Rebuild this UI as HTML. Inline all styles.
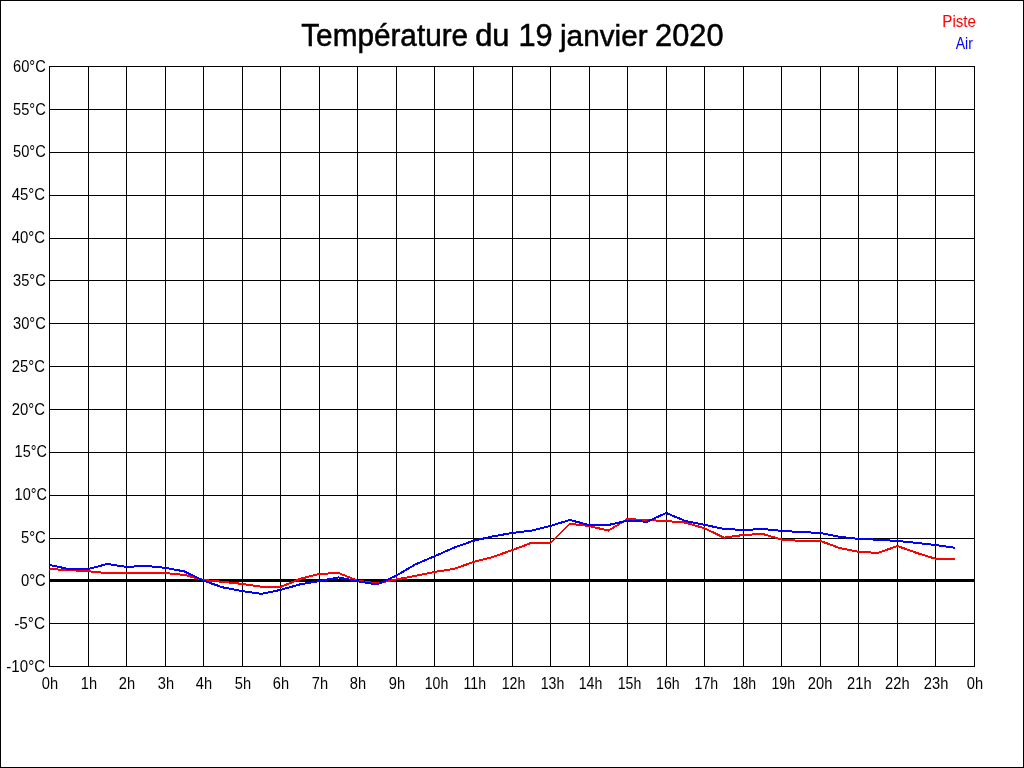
<!DOCTYPE html>
<html lang="fr">
<head>
<meta charset="utf-8">
<title>Température du 19 janvier 2020</title>
<style>
html,body{margin:0;padding:0;background:#fff;}
body{width:1024px;height:768px;overflow:hidden;}
svg{display:block;}
text{font-family:"Liberation Sans",Arial,sans-serif;}
.g{shape-rendering:crispEdges;}
.lbl{font-size:14.67px;fill:#000;}
.ttl{font-size:29.33px;fill:#000;stroke:#000;stroke-width:0.5px;}
</style>
</head>
<body>
<svg width="1024" height="768" viewBox="0 0 1024 768">
<rect x="0" y="0" width="1024" height="768" fill="#fff"/>
<rect class="g" x="0.5" y="0.5" width="1023" height="767" fill="none" stroke="#000" stroke-width="1"/>
<path class="g" d="M49.5 66V667M88.5 66V667M126.5 66V667M165.5 66V667M203.5 66V667M242.5 66V667M280.5 66V667M319.5 66V667M357.5 66V667M396.5 66V667M434.5 66V667M473.5 66V667M512.5 66V667M550.5 66V667M589.5 66V667M627.5 66V667M666.5 66V667M704.5 66V667M743.5 66V667M781.5 66V667M820.5 66V667M858.5 66V667M897.5 66V667M935.5 66V667M974.5 66V667M49 66.5H975M49 109.5H975M49 152.5H975M49 195.5H975M49 238.5H975M49 280.5H975M49 323.5H975M49 366.5H975M49 409.5H975M49 452.5H975M49 495.5H975M49 538.5H975M49 580.5H975M49 623.5H975M49 666.5H975" fill="none" stroke="#000" stroke-width="1"/>
<rect class="g" x="49" y="579" width="926" height="3" fill="#000"/>
<polyline class="g" points="49.50,569.00 68.77,570.10 88.04,571.20 107.31,573.10 126.58,573.10 145.85,573.10 165.12,573.00 184.40,574.90 203.67,580.00 222.94,581.90 242.21,583.90 261.48,586.75 280.75,586.90 300.02,578.90 319.29,573.90 338.56,573.00 357.83,580.75 377.10,583.25 396.38,579.50 415.65,575.75 434.92,571.90 454.19,568.90 473.46,562.00 492.73,557.00 512.00,550.20 531.27,542.90 550.54,542.90 569.81,523.75 589.08,526.00 608.35,530.60 627.62,519.00 646.90,520.10 666.17,521.00 685.44,522.60 704.71,528.40 723.98,537.60 743.25,535.00 762.52,533.90 781.79,539.60 801.06,540.90 820.33,540.90 839.60,548.00 858.88,551.90 878.15,552.90 897.42,546.00 916.69,552.90 935.96,558.90 955.23,558.90" fill="none" stroke="#f00" stroke-width="2" stroke-linejoin="bevel"/>
<polyline class="g" points="49.50,565.00 68.77,569.00 88.04,569.00 107.31,564.00 126.58,566.90 145.85,565.90 165.12,567.80 184.40,571.40 203.67,580.75 222.94,587.40 242.21,591.10 261.48,593.90 280.75,589.80 300.02,584.40 319.29,581.10 338.56,577.40 357.83,581.25 377.10,584.50 396.38,575.60 415.65,564.25 434.92,556.10 454.19,547.60 473.46,540.75 492.73,536.40 512.00,533.00 531.27,530.60 550.54,525.90 569.81,520.00 589.08,525.00 608.35,525.00 627.62,520.70 646.90,521.75 666.17,513.00 685.44,521.00 704.71,524.90 723.98,528.90 743.25,530.00 762.52,529.00 781.79,530.90 801.06,532.00 820.33,533.00 839.60,536.90 858.88,538.90 878.15,539.75 897.42,541.00 916.69,542.90 935.96,545.00 955.23,547.90" fill="none" stroke="#00f" stroke-width="2" stroke-linejoin="bevel"/>
<text class="ttl" transform="translate(301.24,45.75) scale(1.0138,1.05)">Température</text>
<text class="ttl" transform="translate(475.20,45.75) scale(1.0500,1.06)">du</text>
<text class="ttl" transform="translate(518.40,45.75) scale(1.0500,1.095)">19</text>
<text class="ttl" transform="translate(560.00,45.75) scale(1.0144,1.02)">janvier</text>
<text class="ttl" transform="translate(655.10,45.75) scale(1.0500,1.095)">2020</text>
<text class="lbl" transform="translate(975.97,27) scale(1.033,1.07)" text-anchor="end" style="fill:#f00">Piste</text>
<text class="lbl" transform="translate(972.84,49) scale(0.96,1.07)" text-anchor="end" style="fill:#00f">Air</text>
<text class="lbl" transform="translate(45.75,72) scale(1.0,1.095)" text-anchor="end">60°C</text>
<text class="lbl" transform="translate(45.75,115) scale(1.0,1.095)" text-anchor="end">55°C</text>
<text class="lbl" transform="translate(45.75,157) scale(1.0,1.095)" text-anchor="end">50°C</text>
<text class="lbl" transform="translate(45.06,200) scale(1.02,1.095)" text-anchor="end">45°C</text>
<text class="lbl" transform="translate(45.06,243) scale(1.02,1.095)" text-anchor="end">40°C</text>
<text class="lbl" transform="translate(45.75,286) scale(1.0,1.095)" text-anchor="end">35°C</text>
<text class="lbl" transform="translate(45.75,329) scale(1.0,1.095)" text-anchor="end">30°C</text>
<text class="lbl" transform="translate(45.06,372) scale(1.014,1.095)" text-anchor="end">25°C</text>
<text class="lbl" transform="translate(45.06,415) scale(1.014,1.095)" text-anchor="end">20°C</text>
<text class="lbl" transform="translate(46.94,457) scale(0.987,1.095)" text-anchor="end">15°C</text>
<text class="lbl" transform="translate(46.94,500) scale(0.987,1.095)" text-anchor="end">10°C</text>
<text class="lbl" transform="translate(45.76,543) scale(1.01,1.095)" text-anchor="end">5°C</text>
<text class="lbl" transform="translate(45.76,586) scale(1.01,1.095)" text-anchor="end">0°C</text>
<text class="lbl" transform="translate(45.09,629) scale(1.05,1.095)" text-anchor="end">-5°C</text>
<text class="lbl" transform="translate(45.07,672) scale(1.029,1.095)" text-anchor="end">-10°C</text>
<text class="lbl" transform="translate(50.00,689) scale(1,1.095)" text-anchor="middle">0h</text>
<text class="lbl" transform="translate(89.00,689) scale(1,1.095)" text-anchor="middle">1h</text>
<text class="lbl" transform="translate(127.00,689) scale(1,1.095)" text-anchor="middle">2h</text>
<text class="lbl" transform="translate(166.00,689) scale(1,1.095)" text-anchor="middle">3h</text>
<text class="lbl" transform="translate(204.00,689) scale(1,1.095)" text-anchor="middle">4h</text>
<text class="lbl" transform="translate(243.00,689) scale(1,1.095)" text-anchor="middle">5h</text>
<text class="lbl" transform="translate(281.00,689) scale(1,1.095)" text-anchor="middle">6h</text>
<text class="lbl" transform="translate(320.00,689) scale(1,1.095)" text-anchor="middle">7h</text>
<text class="lbl" transform="translate(358.00,689) scale(1,1.095)" text-anchor="middle">8h</text>
<text class="lbl" transform="translate(397.00,689) scale(1,1.095)" text-anchor="middle">9h</text>
<text class="lbl" transform="translate(436.55,689) scale(0.965,1.095)" text-anchor="middle">10h</text>
<text class="lbl" transform="translate(474.80,689) scale(0.965,1.095)" text-anchor="middle">11h</text>
<text class="lbl" transform="translate(513.55,689) scale(0.965,1.095)" text-anchor="middle">12h</text>
<text class="lbl" transform="translate(552.50,689) scale(0.965,1.095)" text-anchor="middle">13h</text>
<text class="lbl" transform="translate(590.50,689) scale(0.965,1.095)" text-anchor="middle">14h</text>
<text class="lbl" transform="translate(629.45,689) scale(0.965,1.095)" text-anchor="middle">15h</text>
<text class="lbl" transform="translate(667.90,689) scale(0.965,1.095)" text-anchor="middle">16h</text>
<text class="lbl" transform="translate(706.35,689) scale(0.965,1.095)" text-anchor="middle">17h</text>
<text class="lbl" transform="translate(744.40,689) scale(0.965,1.095)" text-anchor="middle">18h</text>
<text class="lbl" transform="translate(783.30,689) scale(0.965,1.095)" text-anchor="middle">19h</text>
<text class="lbl" transform="translate(820.10,689) scale(1,1.095)" text-anchor="middle">20h</text>
<text class="lbl" transform="translate(859.35,689) scale(1,1.095)" text-anchor="middle">21h</text>
<text class="lbl" transform="translate(897.30,689) scale(1,1.095)" text-anchor="middle">22h</text>
<text class="lbl" transform="translate(936.10,689) scale(1,1.095)" text-anchor="middle">23h</text>
<text class="lbl" transform="translate(975.00,689) scale(1,1.095)" text-anchor="middle">0h</text>
</svg>
</body>
</html>
